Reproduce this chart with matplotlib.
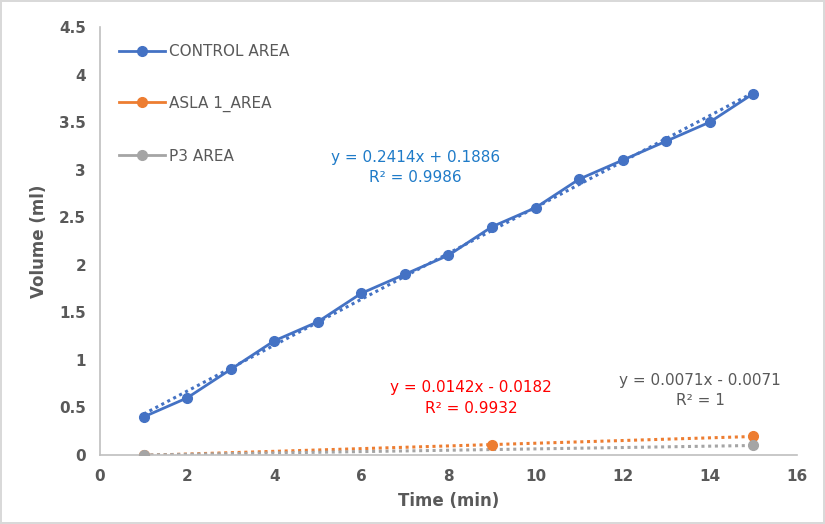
import matplotlib.pyplot as plt
import numpy as np

# data
control_x = [1, 2, 3, 4, 5, 6, 7, 8, 9, 10, 11, 12, 13, 14, 15]
control_y = [0.4, 0.6, 0.9, 1.2, 1.4, 1.7, 1.9, 2.1, 2.4, 2.6, 2.9, 3.1, 3.3, 3.5, 3.8]
asla_x = [1, 9, 15]
asla_y = [0.0, 0.1, 0.2]
p3_x = [1, 15]
p3_y = [0.0, 0.1]

labels = ["CONTROL AREA", "ASLA 1_AREA", "P3 AREA"]
eq_texts = [
    "y = 0.2414x + 0.1886\nR² = 0.9986",
    "y = 0.0142x - 0.0182\nR² = 0.9932",
    "y = 0.0071x - 0.0071\nR² = 1",
]

BLUE = "#4472C4"
ORANGE = "#ED7D31"
GRAY = "#A5A5A5"
TXT = "#595959"

fig = plt.figure(figsize=(8.25, 5.24), dpi=100, edgecolor="#D9D9D9", linewidth=1.5)
ax = fig.add_axes([0.1212, 0.1317, 0.8448, 0.8168])


def trend(x, y, color):
    a, b = np.polyfit(x, y, 1)
    xs = np.array([min(x), max(x)])
    ax.plot(xs, a * xs + b, color=color, linestyle=(0, (1, 1.2)), linewidth=2.2, zorder=2)


trend(control_x, control_y, BLUE)
trend(asla_x, asla_y, ORANGE)
trend(p3_x, p3_y, GRAY)

ax.plot(control_x, control_y, color=BLUE, linewidth=2.0, marker="o", markersize=7, label=labels[0], zorder=3)
ax.plot(asla_x, asla_y, color=ORANGE, linestyle="none", marker="o", markersize=7, zorder=3)
ax.plot(p3_x, p3_y, color=GRAY, linestyle="none", marker="o", markersize=7, zorder=4)
# legend handles for series drawn as markers only
ax.plot([], [], color=ORANGE, linewidth=2.0, marker="o", markersize=7, label=labels[1])
ax.plot([], [], color=GRAY, linewidth=2.0, marker="o", markersize=7, label=labels[2])

ax.text(7.25, 3.02, eq_texts[0], color="#1F7BC8", fontsize=11, ha="center", va="center", linespacing=1.45)
ax.text(8.52, 0.6, eq_texts[1], color="#FF0000", fontsize=11, ha="center", va="center", linespacing=1.45)
ax.text(13.78, 0.68, eq_texts[2], color=TXT, fontsize=11, ha="center", va="center", linespacing=1.45)

ax.set_xlim(0, 16)
ax.set_ylim(0, 4.5)
ax.set_xticks(np.arange(0, 17, 2))
ax.set_yticks(np.arange(0, 4.51, 0.5))
ax.set_yticklabels(["0", "0.5", "1", "1.5", "2", "2.5", "3", "3.5", "4", "4.5"])
ax.tick_params(length=0, labelsize=11, labelcolor=TXT, pad=10)
for lab in ax.get_xticklabels() + ax.get_yticklabels():
    lab.set_fontweight("bold")
ax.set_xlabel("Time (min)", fontsize=12, fontweight="bold", color=TXT, labelpad=6)
ax.set_ylabel("Volume (ml)", fontsize=12, fontweight="bold", color=TXT, labelpad=8)

for side in ["top", "right"]:
    ax.spines[side].set_visible(False)
for side in ["left", "bottom"]:
    ax.spines[side].set_color("#BFBFBF")
    ax.spines[side].set_linewidth(1.2)

ax.legend(loc="upper left", bbox_to_anchor=(0.012, 0.985), frameon=False, fontsize=11,
          labelcolor=TXT, labelspacing=2.4, handlelength=3.0, handletextpad=0.3,
          borderaxespad=0.3)

fig.savefig("out.png", dpi=100)
